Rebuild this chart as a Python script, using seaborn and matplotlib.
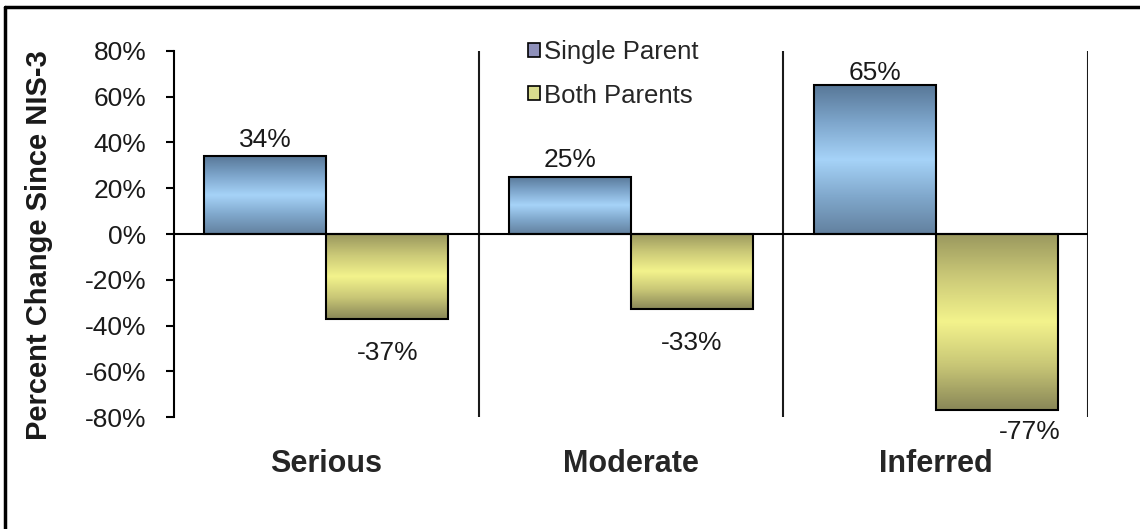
import numpy as np
import pandas as pd
import matplotlib
matplotlib.use("Agg")
import matplotlib.pyplot as plt
import seaborn as sns
from matplotlib.colors import LinearSegmentedColormap
from matplotlib.patches import Patch
from matplotlib.lines import Line2D
from matplotlib.ticker import PercentFormatter

# ---------------------------
# Data
# ---------------------------

categories = ["Serious", "Moderate", "Inferred"]
series = ["Single Parent", "Both Parents"]
single_parent = [34, 25, 65]
both_parents = [-37, -33, -77]
y_ticks = [-80, -60, -40, -20, 0, 20, 40, 60, 80]

df = pd.DataFrame({
    "Category": categories * 2,
    "Group": [series[0]] * 3 + [series[1]] * 3,
    "Change": single_parent + both_parents,
})

# ---------------------------
# Style
# ---------------------------

sns.set_style("white")
plt.rcParams["font.family"] = ["Liberation Sans", "DejaVu Sans"]
plt.rcParams["axes.unicode_minus"] = False

bar_colors = {"Single Parent": "#7fa6cc", "Both Parents": "#c9c87a"}
gradients = {
    "Single Parent": ["#587898", "#7ea6cc", "#a6d3f8", "#80a8cc", "#63819f"],
    "Both Parents": ["#9a985e", "#ccca78", "#f3f38c", "#c8c676", "#8a8858"],
}
legend_colors = {"Single Parent": "#8e90ba", "Both Parents": "#d9dc8e"}

fig = plt.figure(figsize=(11.4, 5.29), dpi=100)
ax = fig.add_axes([0.1526, 0.2117, 0.8018, 0.6919])

sns.barplot(
    data=df,
    x="Category",
    y="Change",
    hue="Group",
    hue_order=series,
    order=categories,
    palette=bar_colors,
    errorbar=None,
    width=0.8,
    edgecolor="black",
    linewidth=1.5,
    legend=False,
    ax=ax,
)

# gradient fill inside each bar
bars = list(ax.patches)
for i, bar in enumerate(bars):
    grp = series[i // len(categories)]
    cmap = LinearSegmentedColormap.from_list(grp, gradients[grp])
    x0, w = bar.get_x(), bar.get_width()
    y0, h = bar.get_y(), bar.get_height()
    top, bottom = max(y0, y0 + h), min(y0, y0 + h)
    grad = np.linspace(0, 1, 200).reshape(-1, 1)
    im = ax.imshow(
        grad, cmap=cmap, aspect="auto", origin="upper",
        extent=[x0, x0 + w, bottom, top], zorder=bar.get_zorder() - 0.1,
        interpolation="bilinear",
    )
    im.set_clip_path(bar)
    bar.set_facecolor("none")

ax.set_xlim(-0.5, 2.5)
ax.set_ylim(-80, 80)

# value labels
label_offsets = {
    (0, 0): (0, 12), (1, 0): (0, 12), (2, 0): (0, 9),
    (0, 1): (0, -25), (1, 1): (0, -24), (2, 1): (24, -16),
}
for i, bar in enumerate(bars):
    s, c = i // len(categories), i % len(categories)
    val = single_parent[c] if s == 0 else both_parents[c]
    ax.annotate(
        f"{val}%",
        xy=(bar.get_x() + bar.get_width() / 2, val),
        xytext=label_offsets[(c, s)],
        textcoords="offset points",
        ha="center", va="center",
        fontsize=19, color="#1a1a1a",
    )

# axes and lines
ax.axhline(0, color="black", linewidth=1.5, zorder=5)
for xv in [0.5, 1.5, 2.5]:
    ax.axvline(xv, color="#1a1a1a", linewidth=1.5, zorder=1)

for side in ["top", "right", "bottom"]:
    ax.spines[side].set_visible(False)
ax.spines["left"].set_linewidth(1.5)
ax.spines["left"].set_color("black")

ax.set_yticks(y_ticks)
ax.yaxis.set_major_formatter(PercentFormatter(decimals=0))
ax.tick_params(axis="y", direction="out", length=6, width=1.5,
               labelsize=19, pad=14, left=True, colors="black",
               labelcolor="#1a1a1a")
ax.set_xticks(range(len(categories)))
ax.set_xticklabels(categories, fontsize=22, fontweight="bold")
ax.tick_params(axis="x", length=0, pad=23)
ax.set_xlabel("")
ax.set_ylabel("")

fig.text(39 / 1140, 1 - 245 / 529, "Percent Change Since NIS-3",
         rotation=90, ha="center", va="center",
         fontsize=21, fontweight="bold", color="#1a1a1a")

handles = [Patch(facecolor=legend_colors[s], edgecolor="black", linewidth=1.2)
           for s in series]
fig.legend(
    handles, series,
    loc="upper left", bbox_to_anchor=(518 / 1140, 1 - 30 / 529),
    frameon=False, fontsize=18.5,
    handlelength=0.45, handleheight=0.45, handletextpad=0.15,
    labelspacing=0.75, borderaxespad=0,
)

# outer frame (left and top edges visible)
fig.add_artist(Line2D([5 / 1140, 5 / 1140], [0, 1 - 7 / 529],
                      transform=fig.transFigure, color="black", linewidth=2.5))
fig.add_artist(Line2D([5 / 1140, 1], [1 - 7 / 529, 1 - 7 / 529],
                      transform=fig.transFigure, color="black", linewidth=2.5))

fig.savefig("out.png", dpi=100)
plt.close(fig)
